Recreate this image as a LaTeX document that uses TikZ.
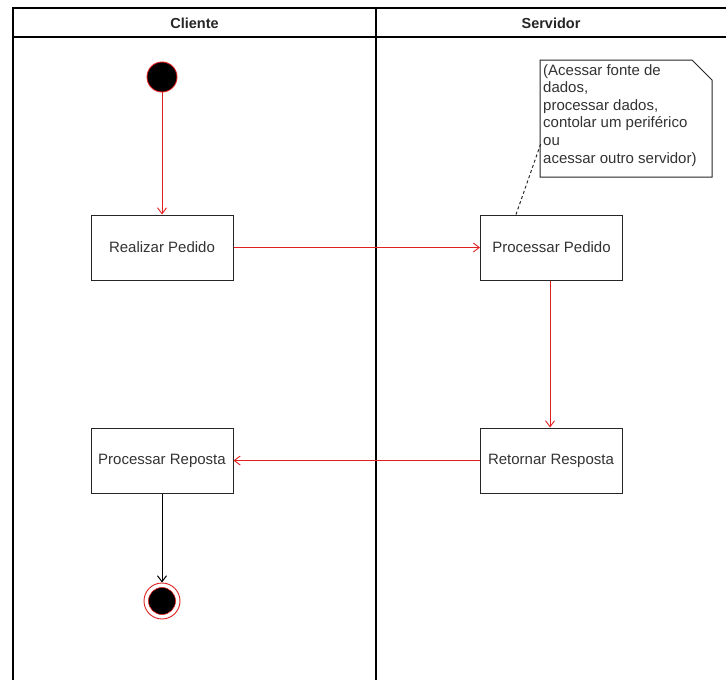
\documentclass[tikz,border=0pt]{standalone}
\usepackage{fontspec}
\setmainfont{Liberation Sans}
\usetikzlibrary{arrows.meta,shapes.misc}
\definecolor{flowred}{RGB}{226,30,30}
\begin{document}
\begin{tikzpicture}[x=1pt,y=-1pt,
  every node/.style={font=\fontsize{15}{17.6}\selectfont, text=black!80},
  act/.style={draw=black!85, line width=1pt, minimum width=142pt, minimum height=65pt, inner sep=0pt},
  lane/.style={draw=black, line width=1.3pt},
  flow/.style={draw=flowred, line width=0.9pt, -{Straight Barb[length=6pt,width=9pt]}},
  flowk/.style={draw=black, line width=1pt, -{Straight Barb[length=6pt,width=9pt]}},
  hdr/.style={font=\fontsize{14.5}{15}\selectfont\bfseries, text=black!85}]
\useasboundingbox (0,0) rectangle (726,680);
\fill[white] (0,0) rectangle (726,680);
% swimlanes
\draw[lane] (13,684) -- (13,8) -- (730,8);
\draw[lane] (13,37) -- (730,37);
\draw[lane] (376,8) -- (376,684);
\node[hdr] (hc) at (194.5,23) {Cliente};
\node[hdr] (hs) at (551,23) {Servidor};
% activities
\node[act] (rp) at (162,247.5) {Realizar Pedido};
\node[act] (pp) at (551.5,247.5) {Processar Pedido};
\node[act] (rr) at (551,460.5) {Retornar Resposta};
\node[act] (pr) at (162,460.5) {Processar Reposta};
% start and end
\node[circle, fill=black, draw=flowred, line width=0.9pt, minimum size=30pt, inner sep=0pt] (start) at (162,77) {};
\node[circle, draw=flowred, line width=0.9pt, minimum size=36pt, inner sep=0pt] (endo) at (162,601) {};
\node[circle, fill=black, draw=flowred, line width=0.6pt, minimum size=27pt, inner sep=0pt] (endi) at (162,601) {};
% note
\coordinate (n1) at (540,60);
\coordinate (n2) at (692,60);
\coordinate (n3) at (712,80);
\coordinate (n4) at (712,177);
\coordinate (n5) at (540,177);
\draw[black!85, line width=1pt, fill=white] (n1) -- (n2) -- (n3) -- (n4) -- (n5) -- cycle;
\node[anchor=north west, align=left, inner sep=0pt] (note) at (543,64)
  {(Acessar fonte de\\dados,\\processar dados,\\contolar um periférico\\ou\\acessar outro servidor)};
\coordinate (na) at (541,143);
\draw[black!85, line width=1pt, dash pattern=on 3pt off 2.5pt] (pp.north -| 516,0) -- (na);
% flows
\draw[flow] (start) -- (rp);
\draw[flow] (rp) -- (pp);
\draw[flow] (pp.south -| 550,0) -- (rr.north -| 550,0);
\draw[flow] (rr) -- (pr);
\draw[flowk] (pr) -- (endo);
\end{tikzpicture}
\end{document}
